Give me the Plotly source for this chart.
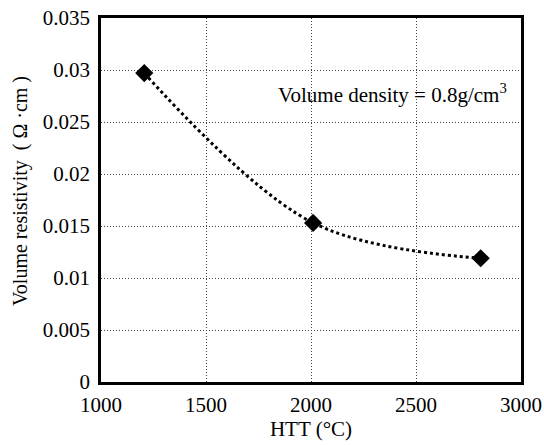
import plotly.graph_objects as go

htt = [1206, 2010, 2808]
resistivity = [0.0297, 0.0153, 0.0119]
x_ticks = [1000, 1500, 2000, 2500, 3000]
y_ticks = [0, 0.005, 0.01, 0.015, 0.02, 0.025, 0.03, 0.035]
y_tick_text = ["0", "0.005", "0.01", "0.015", "0.02", "0.025", "0.03", "0.035"]

FONT = "Liberation Serif, Times New Roman, serif"
NB = "\u00a0"

fig = go.Figure()
fig.add_trace(go.Scatter(
    x=htt, y=resistivity, mode="lines",
    line=dict(color="black", width=3, dash="dot", shape="spline", smoothing=1.0),
    showlegend=False, hoverinfo="skip"))
fig.add_trace(go.Scatter(
    x=htt, y=resistivity, mode="markers",
    marker=dict(symbol="diamond", size=14, color="black"),
    showlegend=False))

fig.add_annotation(x=(392 - 101) / 420, y=(382 - 93) / 364, xref="paper", yref="paper",
                   text="Volume density = 0.8g/cm<sup>3</sup>",
                   showarrow=False, xanchor="center", yanchor="middle",
                   font=dict(family=FONT, size=21, color="black"))

ytitle = ("Volume resistivity" + NB * 2 + "(" + NB + "Ω" + NB + "·" + "cm" + NB + ")")
fig.add_annotation(x=(20 - 101) / 420, y=(382 - 191) / 364, xref="paper", yref="paper",
                   text=ytitle, textangle=-90, showarrow=False,
                   xanchor="center", yanchor="middle",
                   font=dict(family=FONT, size=20, color="black"))

fig.update_xaxes(range=[1000, 3000], tickvals=x_ticks, automargin=False,
                 showgrid=True, gridcolor="#444", griddash="1px,2px", gridwidth=1,
                 showline=True, linecolor="black", linewidth=2.5, mirror=True,
                 ticks="", zeroline=False, ticklabelstandoff=2,
                 tickfont=dict(family=FONT, size=21, color="black"),
                 title=dict(text="HTT (°C)", font=dict(family=FONT, size=21, color="black"), standoff=5))
fig.update_yaxes(range=[0, 0.035], tickvals=y_ticks, ticktext=y_tick_text, automargin=False,
                 showgrid=True, gridcolor="#444", griddash="1px,2px", gridwidth=1,
                 showline=True, linecolor="black", linewidth=2.5, mirror=True,
                 ticks="", zeroline=False, ticklabelstandoff=4,
                 tickfont=dict(family=FONT, size=21, color="black"))

fig.update_layout(width=544, height=445, margin=dict(l=101, r=23, t=18, b=63),
                  plot_bgcolor="white", paper_bgcolor="white")

fig.write_html("out.html")
